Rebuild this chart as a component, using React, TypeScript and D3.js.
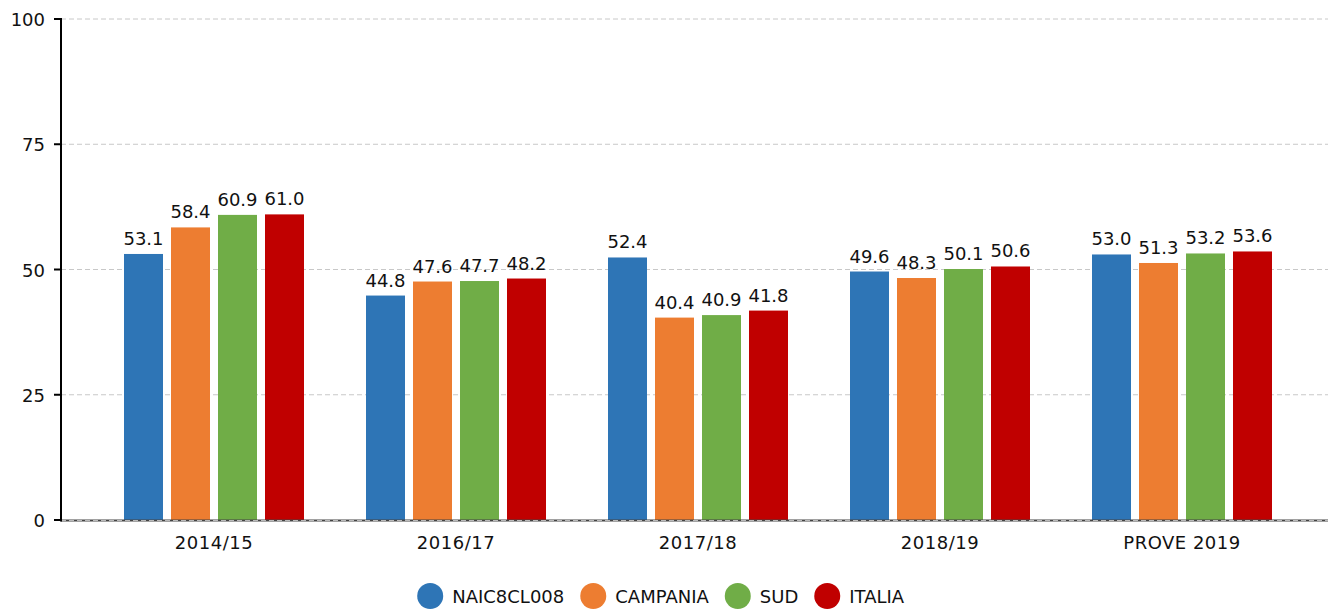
import React, { useEffect, useRef } from 'react';
import * as d3 from 'd3';

const categories = ['2014/15', '2016/17', '2017/18', '2018/19', 'PROVE 2019'];
const seriesNames = ['NAIC8CL008', 'CAMPANIA', 'SUD', 'ITALIA'];
const naic = [53.1, 44.8, 52.4, 49.6, 53.0];
const campania = [58.4, 47.6, 40.4, 48.3, 51.3];
const sud = [60.9, 47.7, 40.9, 50.1, 53.2];
const italia = [61.0, 48.2, 41.8, 50.6, 53.6];
const yTicks = [0, 25, 50, 75, 100];
const colors = ['#2E75B6', '#ED7D31', '#70AD47', '#C00000'];

const W = 1328;
const H = 610;
const FONT = '"DejaVu Sans", Verdana, sans-serif';

export default function App() {
  const ref = useRef<SVGSVGElement>(null);

  useEffect(() => {
    const svg = d3.select(ref.current);
    svg.selectAll('*').remove();

    const values = [naic, campania, sud, italia];
    const y = d3.scaleLinear().domain([0, 100]).range([520, 19]);
    const x0 = d3.scaleBand().domain(categories).range([93, 1303]);
    const x1 = d3.scaleBand().domain(seriesNames).range([0, 180]).paddingInner(8 / 47).paddingOuter(0);
    const groupOff = (x0.bandwidth() - 180) / 2;

    // grid
    svg.append('g').selectAll('line').data(yTicks.filter(t => t > 0)).enter().append('line')
      .attr('x1', 61).attr('x2', W)
      .attr('y1', d => y(d)).attr('y2', d => y(d))
      .attr('stroke', '#c8c8c8').attr('stroke-dasharray', '5,3');

    // bars
    const groups = svg.append('g').selectAll('g').data(categories).enter().append('g')
      .attr('transform', c => 'translate(' + ((x0(c) as number) + groupOff) + ',0)');

    groups.each(function (c, ci) {
      const g = d3.select(this);
      seriesNames.forEach((s, si) => {
        const v = values[si][ci];
        g.append('rect')
          .attr('x', x1(s) as number)
          .attr('y', y(v))
          .attr('width', x1.bandwidth())
          .attr('height', y(0) - y(v) + 1)
          .attr('fill', colors[si]);
        g.append('text')
          .attr('x', (x1(s) as number) + x1.bandwidth() / 2)
          .attr('y', y(v) - 9)
          .attr('text-anchor', 'middle')
          .style('font-family', FONT).style('font-size', '18px').attr('fill', '#111')
          .text(v.toFixed(1));
      });
    });

    // zero line
    svg.append('line').attr('x1', 61).attr('x2', W).attr('y1', y(0) + 0.5).attr('y2', y(0) + 0.5)
      .attr('stroke', '#444').attr('stroke-width', 2);
    svg.append('line').attr('x1', 61).attr('x2', W).attr('y1', y(0) + 0.5).attr('y2', y(0) + 0.5)
      .attr('stroke', '#bbb').attr('stroke-dasharray', '5,3');

    // y axis
    svg.append('line').attr('x1', 61).attr('x2', 61).attr('y1', y(100) - 1).attr('y2', y(0) + 1.5)
      .attr('stroke', '#000').attr('stroke-width', 2);
    const yt = svg.append('g').selectAll('g').data(yTicks).enter().append('g');
    yt.append('line').attr('x1', 54).attr('x2', 61).attr('y1', d => y(d)).attr('y2', d => y(d))
      .attr('stroke', '#000').attr('stroke-width', 2);
    yt.append('text').attr('x', 45).attr('y', d => y(d) + 7).attr('text-anchor', 'end')
      .style('font-family', FONT).style('font-size', '18px').attr('fill', '#111')
      .text(d => String(d));

    // x labels
    svg.append('g').selectAll('text').data(categories).enter().append('text')
      .attr('x', c => (x0(c) as number) + x0.bandwidth() / 2)
      .attr('y', 549)
      .attr('text-anchor', 'middle')
      .style('font-family', FONT).style('font-size', '18px').style('letter-spacing', '0.5px').attr('fill', '#111')
      .text(c => c);

    // legend
    const leg = svg.append('g');
    let cx = 0;
    seriesNames.forEach((s, i) => {
      leg.append('circle').attr('cx', cx).attr('cy', 596).attr('r', 13).attr('fill', colors[i]);
      const t = leg.append('text').attr('x', cx + 22).attr('y', 603)
        .style('font-family', FONT).style('font-size', '18px').attr('fill', '#111').text(s);
      const w = (t.node() as SVGTextElement).getComputedTextLength();
      cx = cx + 22 + w + 29;
    });
    const bb = (leg.node() as SVGGElement).getBBox();
    leg.attr('transform', 'translate(' + (W / 2 - 3 - (bb.x + bb.width / 2)) + ',0)');
  }, []);

  return (
    <svg ref={ref} width={W} height={H}
      style={{ position: 'absolute', left: 0, top: 0, background: '#fff' }} />
  );
}
